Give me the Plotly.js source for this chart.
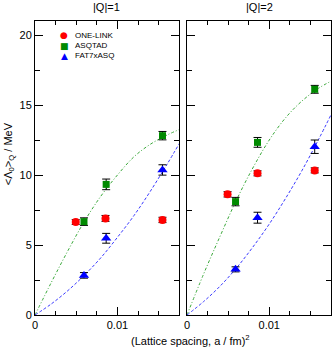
<!DOCTYPE html>
<html>
<head>
<meta charset="utf-8">
<script src="https://cdn.plot.ly/plotly-3.0.1.min.js"></script>
<style>html,body{margin:0;padding:0;background:#fff;}#chart{width:332px;height:354px;}</style>
</head>
<body>
<div id="chart"></div>
<script>
// ---- data ----
const panelTitles = ["|Q|=1", "|Q|=2"];
const seriesNames = ["ONE-LINK", "ASQTAD", "FAT7xASQ"];

// |Q|=1
const q1OneLinkX = [0.00494, 0.00855, 0.01546];
const q1OneLinkY = [6.64, 6.90, 6.79];
const q1OneLinkE = [0.17, 0.21, 0.19];
const q1AsqtadX = [0.00594, 0.00863, 0.01546];
const q1AsqtadY = [6.67, 9.33, 12.81];
const q1AsqtadE = [0.27, 0.38, 0.30];
const q1Fat7X = [0.00594, 0.00863, 0.01546];
const q1Fat7Y = [2.83, 5.48, 10.36];
const q1Fat7E = [0.20, 0.35, 0.37];

// |Q|=2
const q2OneLinkX = [0.00493, 0.00857, 0.01552];
const q2OneLinkY = [8.62, 10.12, 10.33];
const q2OneLinkE = [0.19, 0.18, 0.18];
const q2AsqtadX = [0.00590, 0.00857, 0.01552];
const q2AsqtadY = [8.10, 12.33, 16.12];
const q2AsqtadE = [0.30, 0.35, 0.28];
const q2Fat7X = [0.00590, 0.00857, 0.01552];
const q2Fat7Y = [3.26, 6.95, 12.02];
const q2Fat7E = [0.18, 0.39, 0.48];

// fit curves
const curveX = [0, 0.002, 0.004, 0.006, 0.008, 0.010, 0.012, 0.014, 0.016, 0.0175];
const q1AsqtadFit = [0, 2.35, 4.6, 6.7, 8.5, 10.0, 11.3, 12.2, 12.85, 13.25];
const q1Fat7Fit   = [0, 0.8, 1.75, 2.85, 4.1, 5.55, 7.1, 8.85, 10.75, 12.25];
const q2AsqtadFit = [0, 2.9, 5.6, 8.2, 10.5, 12.5, 14.1, 15.3, 16.2, 16.7];
const q2Fat7Fit   = [0, 0.95, 2.05, 3.35, 4.85, 6.5, 8.35, 10.35, 12.55, 14.3];

const xTickVals = [0, 0.01];
const xTickText = ["0", "0.01"];
const yTickVals = [0, 5, 10, 15, 20];

// ---- styles ----
const colRed = "#ff0000", colGreen = "#008a00", colBlue = "#0000ff";
const fitGreen = "#3aa83a", fitBlue = "#3a3aff";

function pts(x, y, e, sym, col, size, xa, ya) {
  return {
    type: "scatter", mode: "markers", x: x, y: y, xaxis: xa, yaxis: ya,
    showlegend: false, cliponaxis: false,
    marker: {symbol: sym, color: col, size: size, line: {width: 0}},
    error_y: {type: "data", array: e, visible: true, color: "#000", thickness: 1, width: 4}
  };
}
function fit(x, y, col, dash, xa, ya) {
  return {
    type: "scatter", mode: "lines", x: x, y: y, xaxis: xa, yaxis: ya,
    showlegend: false, hoverinfo: "skip",
    line: {color: col, width: 1, dash: dash, shape: "spline"}
  };
}

const dashGreen = "3px,2px,1px,2px";
const dashBlue = "3px,2px";

const traces = [
  fit(curveX, q1AsqtadFit, fitGreen, dashGreen, "x", "y"),
  fit(curveX, q1Fat7Fit, fitBlue, dashBlue, "x", "y"),
  fit(curveX, q2AsqtadFit, fitGreen, dashGreen, "x2", "y2"),
  fit(curveX, q2Fat7Fit, fitBlue, dashBlue, "x2", "y2"),
  pts(q1OneLinkX, q1OneLinkY, q1OneLinkE, "circle", colRed, 8, "x", "y"),
  pts(q1AsqtadX, q1AsqtadY, q1AsqtadE, "square", colGreen, 7, "x", "y"),
  pts(q1Fat7X, q1Fat7Y, q1Fat7E, "triangle-up", colBlue, 9, "x", "y"),
  pts(q2OneLinkX, q2OneLinkY, q2OneLinkE, "circle", colRed, 8, "x2", "y2"),
  pts(q2AsqtadX, q2AsqtadY, q2AsqtadE, "square", colGreen, 7, "x2", "y2"),
  pts(q2Fat7X, q2Fat7Y, q2Fat7E, "triangle-up", colBlue, 9, "x2", "y2")
];

const font = {family: "Liberation Sans, Arial, sans-serif", size: 11, color: "#000"};

function xax(domain, anchor) {
  return {
    domain: domain, anchor: anchor, range: [0, 0.0175], showgrid: false, zeroline: false,
    showline: true, linecolor: "#000", linewidth: 1, mirror: "ticks",
    ticks: "inside", ticklen: 8, tickcolor: "#000", tickwidth: 1,
    tickmode: "array", tickvals: xTickVals, ticktext: xTickText,
    tickfont: font,
    minor: {dtick: 0.0025, tick0: 0, ticks: "inside", ticklen: 4, tickcolor: "#000", showgrid: false}
  };
}
function yax(anchor, labels) {
  return {
    anchor: anchor, domain: [0, 1], range: [0, 21], showgrid: false, zeroline: false,
    showline: true, linecolor: "#000", linewidth: 1, mirror: "ticks",
    ticks: "inside", ticklen: 8, tickcolor: "#000", tickwidth: 1,
    tickmode: "array", tickvals: yTickVals, showticklabels: labels,
    tickfont: font,
    minor: {dtick: 2.5, tick0: 0, ticks: "inside", ticklen: 5, tickcolor: "#000", showgrid: false}
  };
}

const legendY = [0.952, 0.916, 0.881];
const legendSym = ["●", "■", "▲"];
const legendCol = [colRed, colGreen, colBlue];
const annotations = [
  {text: panelTitles[0], xref: "paper", yref: "paper", x: 0.2432, y: 1.048, showarrow: false, font: font, xanchor: "center", yanchor: "middle"},
  {text: panelTitles[1], xref: "paper", yref: "paper", x: 0.757, y: 1.048, showarrow: false, font: font, xanchor: "center", yanchor: "middle"},
  {text: "&lt;Λ<sub>0</sub>&gt;<sub>Q</sub> / MeV", xref: "paper", yref: "paper", x: -0.088, y: 0.55, textangle: -90,
   showarrow: false, font: font, xanchor: "center", yanchor: "middle"},
  {text: "(Lattice spacing, a / fm)<sup>2</sup>", xref: "paper", yref: "paper", x: 0.525, y: -0.085,
   showarrow: false, font: font, xanchor: "center", yanchor: "middle"}
];
for (let i = 0; i < 3; i++) {
  annotations.push({text: legendSym[i], xref: "paper", yref: "paper", x: 0.098, y: legendY[i], showarrow: false,
    font: {family: "DejaVu Sans", size: 9, color: legendCol[i]}, xanchor: "center", yanchor: "middle"});
  annotations.push({text: seriesNames[i], xref: "paper", yref: "paper", x: 0.128, y: legendY[i], showarrow: false,
    font: {family: "Liberation Sans, Arial, sans-serif", size: 8, color: "#000"}, xanchor: "left", yanchor: "middle"});
}

const layout = {
  width: 332, height: 354,
  margin: {l: 35, r: 1, t: 21, b: 39},
  paper_bgcolor: "#fff", plot_bgcolor: "#fff",
  showlegend: false,
  font: font,
  xaxis: xax([0, 0.4875], "y"),
  xaxis2: xax([0.5135, 1], "y2"),
  yaxis: yax("x", true),
  yaxis2: yax("x2", false),
  annotations: annotations
};

Plotly.newPlot("chart", traces, layout, {displayModeBar: false, staticPlot: true});
</script>
</body>
</html>
